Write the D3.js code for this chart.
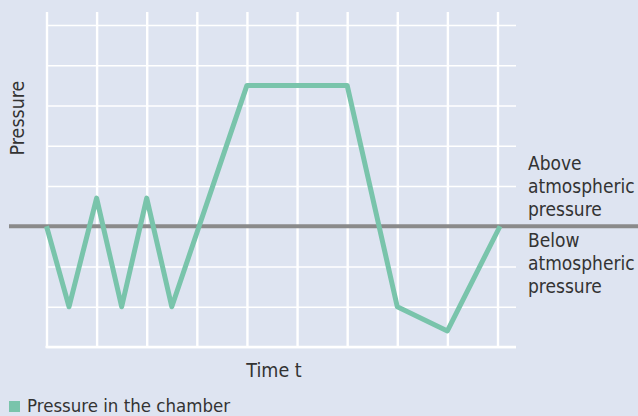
<!DOCTYPE html>
<html>
<head>
<meta charset="utf-8">
<script src="https://cdn.jsdelivr.net/npm/d3@7"></script>
<style>
  body { margin: 0; background: #dee4f1; }
  svg { display: block; }
  text { font-family: "DejaVu Sans Condensed", "DejaVu Sans", sans-serif; font-stretch: condensed; fill: #333; }
</style>
</head>
<body>
<svg id="chart" width="638" height="416"></svg>
<script>
// time (in grid columns) and pressure (grid rows, 0 = atmospheric)
var timePoints = [0, 0.45, 1, 1.5, 2, 2.5, 4, 6, 7, 8, 9.05];
var pressureValues = [0, -2, 0.7, -2, 0.7, -2, 3.5, 3.5, -2, -2.6, 0];
var xTicks = [0, 1, 2, 3, 4, 5, 6, 7, 8, 9];
var yTicks = [-3, -2, -1, 1, 2, 3, 4, 5];
var aboveLabel = ["Above", "atmospheric", "pressure"];
var belowLabel = ["Below", "atmospheric", "pressure"];

var svg = d3.select("#chart");
var W = 638, H = 416;

svg.append("rect").attr("width", W).attr("height", H).attr("fill", "#dee4f1");

var x = d3.scaleLinear().domain([0, 9]).range([46.5, 497.5]);
var y = d3.scaleLinear().domain([-3, 5]).range([347, 25]);

//horizontal grid lines
var hGrid = svg.append("g")
  .attr("transform", "translate(" + x(0) + ",0)")
  .call(d3.axisLeft(y).tickValues(yTicks).tickSize(-(516 - x(0))).tickFormat(""));
hGrid.select(".domain").remove();
hGrid.selectAll("line").attr("stroke", "#fff").attr("stroke-width", 1.6);

//vertical grid lines
var vGrid = svg.append("g")
  .attr("transform", "translate(0," + y(-3) + ")")
  .call(d3.axisBottom(x).tickValues(xTicks).tickSize(-(y(-3) - 12)).tickFormat(""));
vGrid.select(".domain").remove();
vGrid.selectAll("line").attr("stroke", "#fff").attr("stroke-width", 2.4);

//bottom line
svg.append("line")
  .attr("x1", x(0) - 1).attr("x2", 516)
  .attr("y1", y(-3)).attr("y2", y(-3))
  .attr("stroke", "#fff").attr("stroke-width", 2.4);

//atmospheric pressure line
svg.append("line")
  .attr("x1", 9).attr("x2", W)
  .attr("y1", y(0)).attr("y2", y(0))
  .attr("stroke", "#8a8a8a").attr("stroke-width", 4);

var line = d3.line()
  .x(function(d, i) { return x(timePoints[i]); })
  .y(function(d) { return y(d); });

svg.append("path")
  .datum(pressureValues)
  .attr("d", line)
  .attr("fill", "none")
  .attr("stroke", "#79c4ab")
  .attr("stroke-width", 5)
  .attr("stroke-linejoin", "round");

//axis titles
svg.append("text")
  .attr("transform", "translate(24,118) rotate(-90)")
  .attr("text-anchor", "middle")
  .attr("font-size", 19.5)
  .text("Pressure");

svg.append("text")
  .attr("x", 274).attr("y", 376.5)
  .attr("text-anchor", "middle")
  .attr("font-size", 19.5)
  .text("Time t");

//side labels
svg.append("text")
  .selectAll("tspan").data(aboveLabel).enter().append("tspan")
  .attr("x", 528).attr("y", function(d, i) { return 170 + i * 23; })
  .attr("font-size", 19)
  .text(function(d) { return d; });

svg.append("text")
  .selectAll("tspan").data(belowLabel).enter().append("tspan")
  .attr("x", 528).attr("y", function(d, i) { return 247 + i * 23; })
  .attr("font-size", 19)
  .text(function(d) { return d; });

//legend
svg.append("rect")
  .attr("x", 9).attr("y", 401).attr("width", 11).attr("height", 11)
  .attr("fill", "#79c4ab");
svg.append("text")
  .attr("x", 27).attr("y", 411.5)
  .attr("font-size", 18.5)
  .text("Pressure in the chamber");
</script>
</body>
</html>
